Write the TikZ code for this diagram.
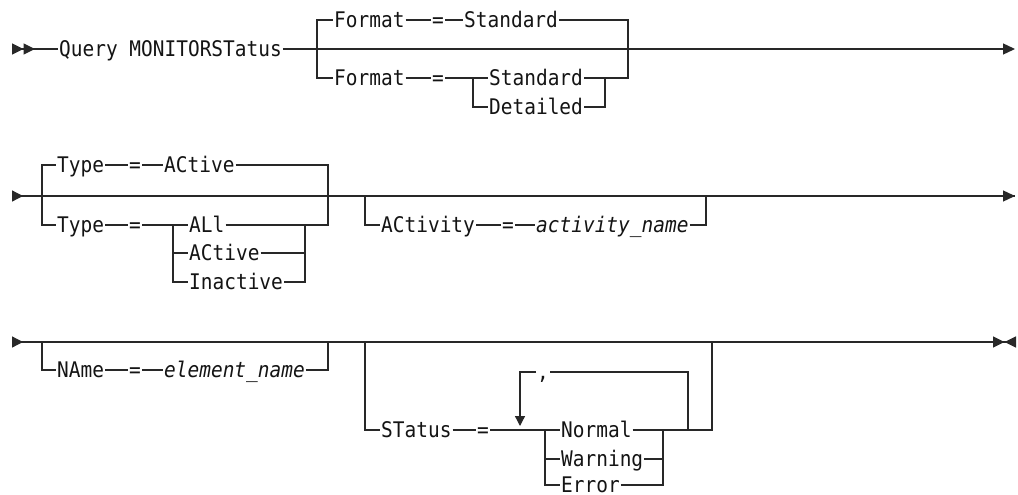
\documentclass[tikz,border=0pt]{standalone}
\usepackage{fontspec}
\setmonofont[FakeStretch=0.905]{DejaVu Sans Mono}
\usepackage{tikz}
\usetikzlibrary{arrows.meta, positioning, calc}
\definecolor{railgray}{RGB}{40,40,40}
\definecolor{textgray}{RGB}{20,20,20}
\tikzset{
  rail/.style={line width=1.3pt, draw=railgray},
  word/.style={font=\ttfamily\fontsize{21.5}{22}\selectfont, text=textgray,
    inner sep=0pt, inner xsep=1pt, text height=14.5pt, text depth=0pt, anchor=west},
  varword/.style={word, font=\ttfamily\itshape\fontsize{21.5}{22}\selectfont},
  startone/.style={{Triangle[reversed,length=11pt,width=11pt]}-},
  starttwo/.style={{Triangle[reversed,length=11.5pt,width=11pt,sep=0pt]Triangle[reversed,length=11.5pt,width=11pt]}-},
  endone/.style={-{Triangle[length=12pt,width=11pt]}},
  endtwo/.style={-{Triangle[length=11.5pt,width=11pt,sep=0pt]Triangle[reversed,length=11.5pt,width=11pt]}},
  repeatarrow/.style={-{Triangle[length=10pt,width=10pt]}}
}

\begin{document}
\begin{tikzpicture}[x=1pt,y=-1pt]
  \path[fill=white] (0,0) rectangle (1018,495);

  % Row 1: command name and Format
  \coordinate (s1) at (12,49);
  \coordinate (e1) at (1015,49);
  \coordinate (j1l) at (317,49);
  \coordinate (j1r) at (628,49);
  \coordinate (k1l) at (473,78);
  \coordinate (k1r) at (605,78);
  \node[word] (qry) at (58,49) {Query MONITORSTatus};
  \node[word] (fmtA) at (333,20) {Format};
  \node[word] (eqA) at (431,20) {=};
  \node[word] (stdA) at (463,20) {Standard};
  \node[word] (fmtB) at (333,78) {Format};
  \node[word] (eqB) at (431,78) {=};
  \node[word] (stdB) at (488,78) {Standard};
  \node[word] (detB) at (488,107) {Detailed};

  \draw[rail, starttwo] (s1) -- (qry.west);
  \draw[rail, endone] (qry.east) -- (e1);
  \draw[rail] (j1l) |- (fmtA.west);
  \draw[rail] (fmtA.east) -- (eqA.west);
  \draw[rail] (eqA.east) -- (stdA.west);
  \draw[rail] (stdA.east) -| (j1r);
  \draw[rail] (j1l) |- (fmtB.west);
  \draw[rail] (fmtB.east) -- (eqB.west);
  \draw[rail] (eqB.east) -- (stdB.west);
  \draw[rail] (k1l) |- (detB.west);
  \draw[rail] (stdB.east) -- (k1r);
  \draw[rail] (detB.east) -| (k1r);
  \draw[rail] (k1r) -| (j1r);

  % Row 2: Type and ACtivity
  \coordinate (s2) at (12,196);
  \coordinate (e2) at (1015,196);
  \coordinate (j2l) at (42,196);
  \coordinate (j2r) at (328,196);
  \coordinate (k2l) at (173,225);
  \coordinate (k2r) at (305,225);
  \coordinate (j2a) at (365,196);
  \coordinate (j2b) at (706,196);
  \node[word] (typeA) at (56,165) {Type};
  \node[word] (eqTA) at (128,165) {=};
  \node[word] (actA) at (163,165) {ACtive};
  \node[word] (typeB) at (56,225) {Type};
  \node[word] (eqTB) at (128,225) {=};
  \node[word] (allB) at (188,225) {ALl};
  \node[word] (actB) at (188,253) {ACtive};
  \node[word] (inaB) at (188,282) {Inactive};
  \node[word] (actv) at (380,225) {ACtivity};
  \node[word] (eqAc) at (501,225) {=};
  \node[varword] (actname) at (535,225) {activity\_name};

  \draw[rail, startone] (s2) -- (e2);
  \draw[rail, endone] (j2b) -- (e2);
  \draw[rail] (j2l) |- (typeA.west);
  \draw[rail] (typeA.east) -- (eqTA.west);
  \draw[rail] (eqTA.east) -- (actA.west);
  \draw[rail] (actA.east) -| (j2r);
  \draw[rail] (j2l) |- (typeB.west);
  \draw[rail] (typeB.east) -- (eqTB.west);
  \draw[rail] (eqTB.east) -- (allB.west);
  \draw[rail] (k2l) |- (actB.west);
  \draw[rail] (k2l) |- (inaB.west);
  \draw[rail] (allB.east) -- (k2r);
  \draw[rail] (actB.east) -| (k2r);
  \draw[rail] (inaB.east) -| (k2r);
  \draw[rail] (k2r) -| (j2r);
  \draw[rail] (j2a) |- (actv.west);
  \draw[rail] (actv.east) -- (eqAc.west);
  \draw[rail] (eqAc.east) -- (actname.west);
  \draw[rail] (actname.east) -| (j2b);

  % Row 3: NAme and STatus
  \coordinate (s3) at (12,342);
  \coordinate (e3) at (1016,342);
  \coordinate (j3a) at (42,342);
  \coordinate (j3b) at (328,342);
  \coordinate (j3l) at (365,342);
  \coordinate (j3r) at (712,342);
  \coordinate (k3l) at (545,430);
  \coordinate (k3r) at (663,430);
  \coordinate (loopB) at (688,430);
  \coordinate (loopT) at (520,426);
  \node[word] (name) at (56,370) {NAme};
  \node[word] (eqN) at (128,370) {=};
  \node[varword] (elname) at (163,370) {element\_name};
  \node[word] (stat) at (380,430) {STatus};
  \node[word] (eqS) at (476,430) {=};
  \node[word] (norm) at (560,430) {Normal};
  \node[word] (warn) at (560,459) {Warning};
  \node[word] (err) at (560,485) {Error};
  \node[word] (comma) at (536,372) {,};

  \draw[rail, startone] (s3) -- (j3a);
  \draw[rail, endtwo] (j3a) -- (e3);
  \draw[rail] (j3a) |- (name.west);
  \draw[rail] (name.east) -- (eqN.west);
  \draw[rail] (eqN.east) -- (elname.west);
  \draw[rail] (elname.east) -| (j3b);
  \draw[rail] (j3l) |- (stat.west);
  \draw[rail] (stat.east) -- (eqS.west);
  \draw[rail] (eqS.east) -- (norm.west);
  \draw[rail] (k3l) |- (warn.west);
  \draw[rail] (k3l) |- (err.west);
  \draw[rail] (norm.east) -- (k3r);
  \draw[rail] (warn.east) -| (k3r);
  \draw[rail] (err.east) -| (k3r);
  \draw[rail] (k3r) -- (loopB);
  \draw[rail] (loopB) -| (j3r);
  \draw[rail] (loopB) |- (comma.east);
  \draw[rail, repeatarrow] (comma.west) -| (loopT);
\end{tikzpicture}
\end{document}
